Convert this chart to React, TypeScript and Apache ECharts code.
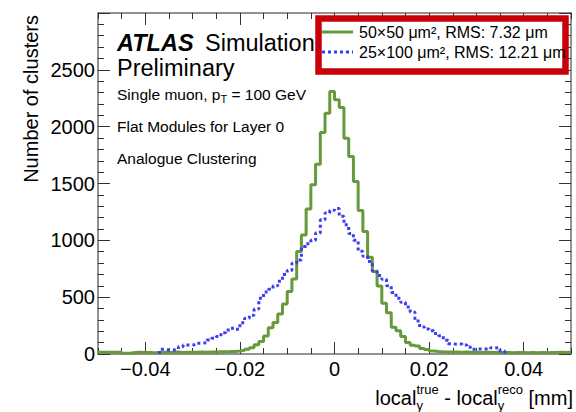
import React, { useEffect, useRef } from "react";
import * as echarts from "echarts";

const FONT = '"Liberation Sans", Arial, Helvetica, sans-serif';
const GREEN = "#65993a";
const BLUE = "#3c3cf6";
const AXIS_COLOR = "#6e6e6e";
const TICK_COLOR = "#333333";

const xMin = -0.05;
const xMax = 0.05;
const binWidth = 0.001;
const xMajorTicks = [-0.04, -0.02, 0, 0.02, 0.04];
const yMax = 3000;
const yInterval = 500;

// 50x50 um^2 pixels (green), 100 bins from -0.05 to 0.05
const counts50x50 = [
  15, 16, 15, 16, 15, 7, 8, 14, 15, 13,
  14, 12, 14, 16, 14, 15, 17, 14, 15, 16,
  15, 17, 16, 18, 17, 19, 20, 21, 23, 27,
  33, 42, 55, 82, 110, 158, 230, 278, 352, 440,
  549, 660, 901, 1047, 1275, 1488, 1670, 1948, 2119, 2310,
  2236, 2168, 1899, 1737, 1517, 1262, 1077, 851, 725, 599,
  446, 364, 235, 205, 155, 102, 78, 70, 48, 40,
  26, 21, 19, 18, 17, 18, 16, 17, 15, 16,
  14, 15, 16, 14, 15, 13, 14, 12, 14, 13,
  12, 14, 12, 13, 12, 14, 13, 15, 14, 16,
];

// 25x100 um^2 pixels (blue), null = empty bin
const counts25x100 = [
  null, null, null, null, null, null, null, null, null, null,
  null, null, null, 41, 35, 35, 41, 64, 79, 79,
  85, 94, 100, 123, 138, 153, 188, 211, 226, 217,
  276, 314, 340, 395, 490, 545, 570, 600, 640, 700,
  735, 798, 827, 945, 970, 1000, 1065, 1180, 1240, 1265,
  1280, 1212, 1136, 1060, 1000, 905, 860, 813, 730, 690,
  657, 600, 540, 490, 455, 414, 370, 290, 237, 220,
  205, 180, 160, 120, 90, 86, 88, 80, 60, 42,
  44, 44, 44, 56, 52, 26, null, null, null, null,
  null, null, null, null, null, null, null, null, null, null,
];

function outline(counts: (number | null)[]) {
  const pts: number[][] = [];
  const n = counts.length;
  for (let i = 0; i < n; i++) {
    const v = counts[i];
    if (v == null) continue;
    const x0 = xMin + i * binWidth;
    if (i > 0 && counts[i - 1] == null) pts.push([x0, 0]);
    pts.push([x0, v]);
    if (i === n - 1 || counts[i + 1] == null) {
      pts.push([x0 + binWidth, v]);
      if (i < n - 1) pts.push([x0 + binWidth, 0]);
    }
  }
  return pts;
}

let measureCtx: CanvasRenderingContext2D | null = null;
function tw(text: string, size: number, weight = "normal", style = "normal") {
  if (!measureCtx) measureCtx = document.createElement("canvas").getContext("2d");
  measureCtx!.font = `${style} ${weight} ${size}px ${FONT}`;
  return measureCtx!.measureText(text).width;
}

function fmtX(v: number) {
  if (Math.abs(v) < 1e-9) return "0";
  return (v < 0 ? "\u2212" : "") + Math.abs(v).toFixed(2);
}

function txt(text: string, x: number, y: number, size: number, extra: any = {}) {
  return {
    type: "text",
    x,
    y,
    style: {
      text,
      fontSize: size,
      fontFamily: FONT,
      fill: "#000",
      align: "left",
      verticalAlign: "middle",
      ...extra,
    },
    z: 10,
  };
}

export default function App() {
  const ref = useRef<HTMLDivElement>(null);
  useEffect(() => {
    if (!ref.current) return;
    const chart = echarts.init(ref.current, null, { renderer: "svg" });

    // x-axis title with stacked sub/superscripts, right-aligned
    const M = 20;
    const S = 13;
    const wA = tw("local", M);
    const wS1 = Math.max(tw("true", S), tw("y", S));
    const wB = tw(" - local", M);
    const wS2 = Math.max(tw("reco", S), tw("y", S));
    const wC = tw(" [mm]", M);
    const total = wA + wS1 + wB + wS2 + wC;
    const xr = 573;
    let cx = xr - total;
    const yMain = 398;
    const ySup = 389.5;
    const ySub = 405;
    const titleEls: any[] = [];
    titleEls.push(txt("local", cx, yMain, M));
    cx += wA;
    titleEls.push(txt("true", cx, ySup, S));
    titleEls.push(txt("y", cx, ySub, S));
    cx += wS1;
    titleEls.push(txt(" - local", cx, yMain, M));
    cx += wB;
    titleEls.push(txt("reco", cx, ySup, S));
    titleEls.push(txt("y", cx, ySub, S));
    cx += wS2;
    titleEls.push(txt(" [mm]", cx, yMain, M));

    const INFO = 15.5;
    const pText = "Single muon, p";
    const wP = tw(pText, INFO);
    const wT = tw("T", 11);

    const axisBase = {
      type: "value",
      min: xMin,
      max: xMax,
      splitLine: { show: false },
    };

    const option: any = {
      animation: false,
      textStyle: { fontFamily: FONT },
      grid: { left: 98, right: 5, top: 13, bottom: 58, containLabel: false },
      xAxis: [
        {
          ...axisBase,
          position: "bottom",
          axisLine: { show: true, onZero: false, lineStyle: { color: AXIS_COLOR, width: 1.5 } },
          axisTick: { show: true, inside: true, length: 12, customValues: xMajorTicks, lineStyle: { color: TICK_COLOR, width: 1 } },
          axisLabel: { show: true, customValues: xMajorTicks, formatter: fmtX, fontSize: 20, color: "#000", margin: 5, fontFamily: FONT },
        },
        {
          ...axisBase,
          position: "bottom",
          interval: 0.005,
          axisLine: { show: false, onZero: false },
          axisTick: { show: true, inside: true, length: 6, lineStyle: { color: TICK_COLOR, width: 1 } },
          axisLabel: { show: false },
        },
        {
          ...axisBase,
          position: "top",
          axisLine: { show: true, onZero: false, lineStyle: { color: AXIS_COLOR, width: 1.5 } },
          axisTick: { show: true, inside: true, length: 12, customValues: xMajorTicks, lineStyle: { color: TICK_COLOR, width: 1 } },
          axisLabel: { show: false },
        },
        {
          ...axisBase,
          position: "top",
          interval: 0.005,
          axisLine: { show: false, onZero: false },
          axisTick: { show: true, inside: true, length: 6, lineStyle: { color: TICK_COLOR, width: 1 } },
          axisLabel: { show: false },
        },
      ],
      yAxis: [
        {
          type: "value",
          min: 0,
          max: yMax,
          interval: yInterval,
          position: "left",
          splitLine: { show: false },
          axisLine: { show: true, onZero: false, lineStyle: { color: AXIS_COLOR, width: 1.5 } },
          axisTick: { show: true, inside: true, length: 12, lineStyle: { color: TICK_COLOR, width: 1 } },
          minorTick: { show: true, splitNumber: 5, length: 6, lineStyle: { color: TICK_COLOR, width: 1 } },
          axisLabel: {
            fontSize: 20,
            color: "#000",
            margin: 3,
            fontFamily: FONT,
            formatter: (v: number) => (v >= yMax ? "" : String(v)),
          },
        },
        {
          type: "value",
          min: 0,
          max: yMax,
          interval: yInterval,
          position: "right",
          splitLine: { show: false },
          axisLine: { show: true, onZero: false, lineStyle: { color: AXIS_COLOR, width: 1.5 } },
          axisTick: { show: true, inside: true, length: 12, lineStyle: { color: TICK_COLOR, width: 1 } },
          minorTick: { show: true, splitNumber: 5, length: 6, lineStyle: { color: TICK_COLOR, width: 1 } },
          axisLabel: { show: false },
        },
      ],
      series: [
        {
          type: "line",
          name: "50x50",
          xAxisIndex: 0,
          yAxisIndex: 0,
          step: "end",
          symbol: "none",
          silent: true,
          data: outline(counts50x50),
          lineStyle: { color: GREEN, width: 3 },
          z: 3,
        },
        {
          type: "line",
          name: "25x100",
          xAxisIndex: 0,
          yAxisIndex: 0,
          step: "end",
          symbol: "none",
          silent: true,
          data: outline(counts25x100),
          lineStyle: { color: BLUE, width: 3, type: [3, 3] },
          z: 4,
        },
      ],
      graphic: [
        {
          type: "text",
          x: 31,
          y: 15,
          rotation: Math.PI / 2,
          style: {
            text: "Number of clusters",
            fontSize: 20,
            fontFamily: FONT,
            fill: "#000",
            align: "right",
            verticalAlign: "middle",
          },
        },
        ...titleEls,
        txt("ATLAS", 117, 43, 23.5, { fontWeight: "bold", fontStyle: "italic" }),
        txt("Simulation", 205, 43, 23.5),
        txt("Preliminary", 117, 68, 23.5),
        txt(pText, 117, 94, INFO),
        txt("T", 117 + wP, 99, 11),
        txt(" = 100 GeV", 117 + wP + wT, 94, INFO),
        txt("Flat Modules for Layer 0", 117, 126, INFO),
        txt("Analogue Clustering", 117, 158, INFO),
        {
          type: "rect",
          shape: { x: 318.5, y: 18.5, width: 247, height: 53 },
          style: { fill: "#fff", stroke: "#c8000a", lineWidth: 6.5 },
          z: 20,
        },
        {
          type: "line",
          shape: { x1: 322, y1: 32, x2: 353, y2: 32 },
          style: { stroke: GREEN, lineWidth: 3 },
          z: 21,
        },
        {
          type: "line",
          shape: { x1: 322, y1: 52, x2: 353, y2: 52 },
          style: { stroke: BLUE, lineWidth: 3, lineDash: [3, 3] },
          z: 21,
        },
        { ...txt("50×50 μm², RMS: 7.32 μm", 359, 32, 16), z: 22 },
        { ...txt("25×100 μm², RMS: 12.21 μm", 359, 52.5, 16), z: 22 },
      ],
    };
    chart.setOption(option);
    return () => chart.dispose();
  }, []);
  return <div ref={ref} style={{ width: 576, height: 412, position: "absolute", left: 0, top: 0 }} />;
}
